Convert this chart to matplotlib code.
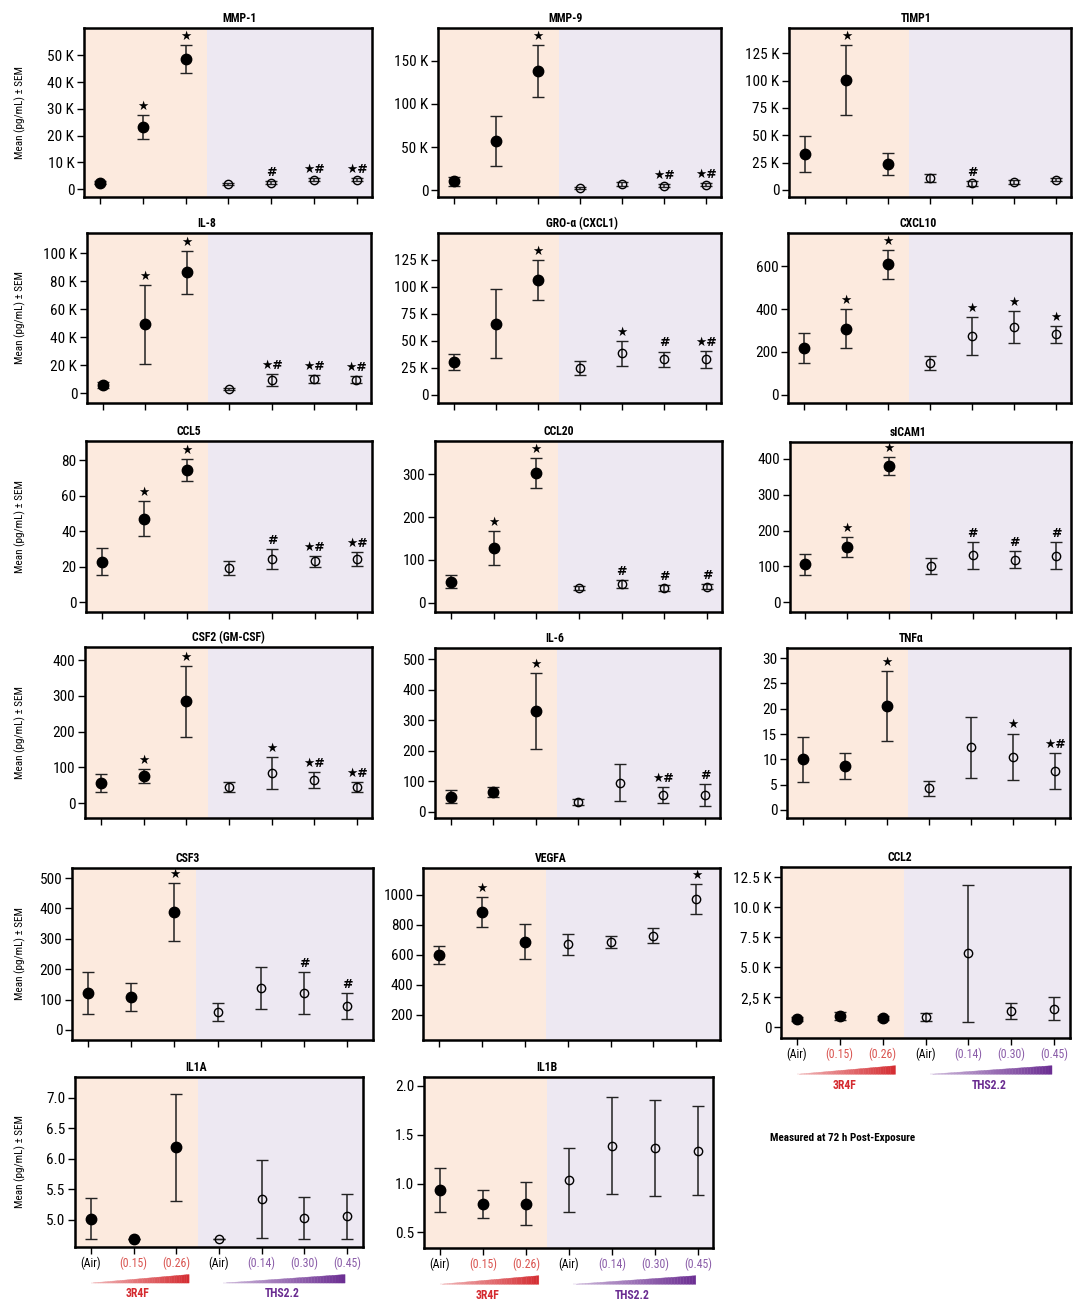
import numpy as np
import matplotlib
matplotlib.use('Agg')
import matplotlib.pyplot as plt
from matplotlib import font_manager
from matplotlib.transforms import blended_transform_factory

# --- data ---
doses = ['(Air)', '(0.15)', '(0.26)', '(Air)', '(0.14)', '(0.30)', '(0.45)']
groups = ['3R4F', 'THS2.2']

mmp1_mean = [2400, 23300, 48600, 1900, 2500, 3500, 3600]
mmp1_sem = [500, 4400, 5100, 400, 600, 600, 600]
mmp1_sig = ['', '★', '★', '', '#', '★#', '★#']

mmp9_mean = [10500, 57400, 138000, 2700, 7400, 5400, 6600]
mmp9_sem = [5000, 28700, 30000, 1500, 2500, 2000, 2000]
mmp9_sig = ['', '', '★', '', '', '★#', '★#']

timp1_mean = [33000, 100500, 23900, 11000, 6100, 7400, 9500]
timp1_sem = [16300, 32000, 10000, 3500, 2000, 1500, 1500]
timp1_sig = ['', '★', '', '', '#', '', '']

il8_mean = [6000, 49200, 86400, 3100, 9500, 10300, 9800]
il8_sem = [2000, 28300, 15300, 1000, 4400, 3000, 2500]
il8_sig = ['', '★', '★', '', '★#', '★#', '★#']

gro_mean = [30200, 65900, 106500, 25200, 38500, 32900, 32900]
gro_sem = [7200, 32000, 18500, 6300, 11700, 7200, 7700]
gro_sig = ['', '', '★', '', '★', '#', '★#']

cxcl10_mean = [217, 309, 609, 150, 274, 316, 282]
cxcl10_sem = [70, 90, 66, 33, 90, 74, 41]
cxcl10_sig = ['', '★', '★', '', '★', '★', '★']

ccl5_mean = [22.8, 47.2, 74.5, 19.4, 24.2, 23.0, 24.3]
ccl5_sem = [7.7, 10.0, 6.0, 4.0, 5.7, 3.2, 4.0]
ccl5_sig = ['', '★', '★', '', '#', '★#', '★#']

ccl20_mean = [49, 128, 303, 34, 43, 34, 37]
ccl20_sem = [16, 40, 35, 5, 10, 6, 6]
ccl20_sig = ['', '★', '★', '', '#', '#', '#']

sicam1_mean = [106, 153, 379, 101, 131, 119, 130]
sicam1_sem = [30, 28, 25, 22, 37, 24, 37]
sicam1_sig = ['', '★', '★', '', '#', '#', '#']

csf2_mean = [55, 75, 285, 45, 85, 65, 45]
csf2_sem = [25, 20, 100, 15, 45, 22, 15]
csf2_sig = ['', '★', '★', '', '★', '★#', '★#']

il6_mean = [50, 65, 330, 33, 95, 55, 55]
il6_sem = [20, 15, 125, 10, 60, 25, 35]
il6_sig = ['', '', '★', '', '', '★#', '#']

tnfa_mean = [10.0, 8.7, 20.5, 4.3, 12.4, 10.5, 7.7]
tnfa_sem = [4.5, 2.6, 6.9, 1.5, 6.0, 4.6, 3.5]
tnfa_sig = ['', '', '★', '', '', '★', '★#']

csf3_mean = [122, 109, 388, 59, 138, 122, 79]
csf3_sem = [70, 45, 95, 30, 70, 68, 42]
csf3_sig = ['', '', '★', '', '', '#', '#']

vegfa_mean = [600, 887, 687, 673, 687, 727, 973]
vegfa_sem = [60, 100, 117, 70, 40, 50, 100]
vegfa_sig = ['', '★', '', '', '', '', '★']

ccl2_mean = [690, 940, 770, 860, 6160, 1330, 1550]
ccl2_sem = [150, 350, 150, 300, 5700, 660, 970]
ccl2_sig = ['', '', '', '', '', '', '']

il1a_mean = [5.02, 4.695, 6.19, 4.695, 5.34, 5.03, 5.06]
il1a_sem = [0.345, 0.0, 0.875, 0.0, 0.64, 0.35, 0.37]
il1a_sig = ['', '', '', '', '', '', '']
il1a_floor = 4.695

il1b_mean = [0.932, 0.786, 0.793, 1.037, 1.388, 1.364, 1.337]
il1b_sem = [0.228, 0.143, 0.221, 0.33, 0.495, 0.49, 0.455]
il1b_sig = ['', '', '', '', '', '', '']

# --- style ---
names = {f.name for f in font_manager.fontManager.ttflist}
cond = next((n for n in ['Roboto Condensed', 'Liberation Sans Narrow',
                         'Open Sans Condensed', 'DejaVu Sans'] if n in names), 'DejaVu Sans')
plt.rcParams['font.family'] = [cond, 'DejaVu Sans']

PEACH = '#fceade'
LAVENDER = '#ede8f2'
RED = '#d42a2f'
RED_LIGHT = '#d9534f'
PURPLE = '#6a2c91'
PURPLE_LIGHT = '#8a5ca8'
dose_colors = ['black', RED_LIGHT, RED_LIGHT, 'black', PURPLE_LIGHT, PURPLE_LIGHT, PURPLE_LIGHT]

W, H = 1073, 1301
fig = plt.figure(figsize=(W / 100, H / 100), dpi=100)


def box(l, t, r, b):
    return [l / W, 1 - b / H, (r - l) / W, (b - t) / H]


def k(vals):
    return [f'{v // 1000} K' if v >= 1000 else f'{v:g}' for v in vals]


panels = [
    ('MMP-1', mmp1_mean, mmp1_sem, mmp1_sig, [0, 10000, 20000, 30000, 40000, 50000], None,
     (-2900, 60200), (84, 28, 372, 197), 0.54, True, False, 6.35),
    ('MMP-9', mmp9_mean, mmp9_sem, mmp9_sig, [0, 50000, 100000, 150000], None,
     (-7750, 188000), (438, 28, 721, 197), 0.45, False, False, 6.35),
    ('TIMP1', timp1_mean, timp1_sem, timp1_sig, [0, 25000, 50000, 75000, 100000, 125000], None,
     (-6400, 148000), (789, 28, 1071, 197), 0.45, False, False, 6.35),
    ('IL-8', il8_mean, il8_sem, il8_sig, [0, 20000, 40000, 60000, 80000, 100000], None,
     (-6900, 114300), (87, 233, 371, 403), 0.42, True, False, 6.35),
    ('GRO-α (CXCL1)', gro_mean, gro_sem, gro_sig, [0, 25000, 50000, 75000, 100000, 125000], None,
     (-7400, 149600), (438, 233, 721, 403), 0.51, False, False, 6.35),
    ('CXCL10', cxcl10_mean, cxcl10_sem, cxcl10_sig, [0, 200, 400, 600], None,
     (-39, 756), (788, 233, 1071, 403), 0.46, False, False, 6.35),
    ('CCL5', ccl5_mean, ccl5_sem, ccl5_sig, [0, 20, 40, 60, 80], None,
     (-5.5, 90.9), (86, 441, 372, 612), 0.36, True, False, 6.35),
    ('CCL20', ccl20_mean, ccl20_sem, ccl20_sig, [0, 100, 200, 300], None,
     (-22, 378), (435, 441, 722, 612), 0.43, False, False, 6.35),
    ('sICAM1', sicam1_mean, sicam1_sem, sicam1_sig, [0, 100, 200, 300, 400], None,
     (-27, 447), (790, 442, 1071, 612), 0.42, False, False, 6.35),
    ('CSF2 (GM-CSF)', csf2_mean, csf2_sem, csf2_sig, [0, 100, 200, 300, 400], None,
     (-42, 437), (85, 647, 372, 818), 0.50, True, False, 6.35),
    ('IL-6', il6_mean, il6_sem, il6_sig, [0, 100, 200, 300, 400, 500], None,
     (-20, 536), (435, 648, 720, 818), 0.42, False, False, 6.35),
    ('TNFα', tnfa_mean, tnfa_sem, tnfa_sig, [0, 5, 10, 15, 20, 25, 30], None,
     (-1.6, 32), (787, 648, 1070, 818), 0.44, False, False, 6.35),
    ('CSF3', csf3_mean, csf3_sem, csf3_sig, [0, 100, 200, 300, 400, 500], None,
     (-33, 533), (72, 868, 373, 1040), 0.385, True, False, 6.6),
    ('VEGFA', vegfa_mean, vegfa_sem, vegfa_sig, [200, 400, 600, 800, 1000],
     ['200', '400', '600', '800', '1000'],
     (33, 1180), (423, 868, 720, 1040), 0.43, False, False, 6.55),
    ('CCL2', ccl2_mean, ccl2_sem, ccl2_sig, [0, 2500, 5000, 7500, 10000, 12500],
     ['0', '2,5 K', '5.0 K', '7.5 K', '10.0 K', '12.5 K'],
     (-880, 13340), (781, 867, 1070, 1038), 0.41, False, True, 6.37),
    ('IL1A', il1a_mean, il1a_sem, il1a_sig, [5.0, 5.5, 6.0, 6.5, 7.0],
     ['5.0', '5.5', '6.0', '6.5', '7.0'],
     (4.558, 7.34), (75, 1077, 363, 1247), 0.42, True, True, 6.37),
    ('IL1B', il1b_mean, il1b_sem, il1b_sig, [0.5, 1.0, 1.5, 2.0],
     ['0.5', '1.0', '1.5', '2.0'],
     (0.34, 2.09), (424, 1077, 713, 1248), 0.425, False, True, 6.35),
]

x = np.arange(len(doses))

for (title, mean, sem, sig, ticks, tlabels, ylim, bx, tx, show_ylabel, show_x, xr) in panels:
    ax = fig.add_axes(box(*bx))
    mean = np.asarray(mean, float)
    sem = np.asarray(sem, float)
    lo = mean - sem
    if title == 'IL1A':
        lo = np.maximum(lo, il1a_floor)
    hi = mean + sem
    yerr = np.vstack([mean - lo, hi - mean])

    ax.axvspan(-1, 2.5, color=PEACH, zorder=0, lw=0)
    ax.axvspan(2.5, 8, color=LAVENDER, zorder=0, lw=0)

    for i in range(len(x)):
        filled = i < 3
        ax.errorbar(x[i], mean[i], yerr=yerr[:, i:i + 1], fmt='o',
                    color='black', ecolor='#222222', elinewidth=1.1, capsize=4.5, capthick=1.1,
                    ms=7.5 if filled else 6,
                    mfc='black' if filled else 'none', mec='black', mew=1.0, zorder=3)
        if sig[i]:
            ax.annotate(sig[i], (x[i], hi[i]), xytext=(0, 1.5), textcoords='offset points',
                        ha='center', va='bottom', fontsize=9, fontweight='bold',
                        family=['DejaVu Sans'])

    ax.set_xlim(-0.37, xr)
    ax.set_ylim(*ylim)
    ax.set_yticks(ticks)
    ax.set_yticklabels(tlabels if tlabels else k(ticks), fontsize=11)
    ax.set_xticks(x)
    ax.tick_params(axis='both', direction='out', length=5, width=1, pad=2)
    for s in ax.spines.values():
        s.set_linewidth(1.8)
    ax.set_title(title, x=tx, fontsize=8.5, fontweight='bold', pad=4)

    if show_ylabel:
        cy = 1 - (bx[1] + bx[3]) / 2 / H
        fig.text(20 / W, cy, 'Mean (pg/mL) ± SEM', rotation=90, ha='center', va='center',
                 fontsize=8)

    if show_x:
        ax.set_xticklabels(doses, fontsize=8.5)
        for lab, c in zip(ax.get_xticklabels(), dose_colors):
            lab.set_color(c)
        tr = blended_transform_factory(ax.transData, ax.transAxes)
        # dose wedges below the axis
        for (x0, x1, col, name) in [(0.0, 2.3, RED, groups[0]), (3.1, 5.95, PURPLE, groups[1])]:
            n = 40
            edges = np.linspace(x0, x1, n + 1)
            yb, hh = -0.212, 0.05
            rgb = np.array(matplotlib.colors.to_rgb(col))
            for j in range(n):
                xa, xb = edges[j], edges[j + 1]
                ha_ = hh * (xa - x0) / (x1 - x0)
                hb_ = hh * (xb - x0) / (x1 - x0)
                t = 0.35 + 0.65 * (j / n)
                c = 1 - t * (1 - rgb)
                ax.fill([xa, xb, xb, xa], [yb, yb, yb + hb_, yb + ha_], transform=tr,
                        color=c, lw=0.3, clip_on=False)
            ax.text((x0 + x1) / 2 - 0.05, -0.275, name, transform=tr, ha='center', va='center',
                    color=col, fontsize=8.5, fontweight='bold')
    else:
        ax.set_xticklabels([])

fig.text(770 / W, 1 - 1138 / H, 'Measured at 72 h Post-Exposure', fontsize=8,
         fontweight='bold', ha='left', va='center')

fig.savefig('out.png', dpi=100)
